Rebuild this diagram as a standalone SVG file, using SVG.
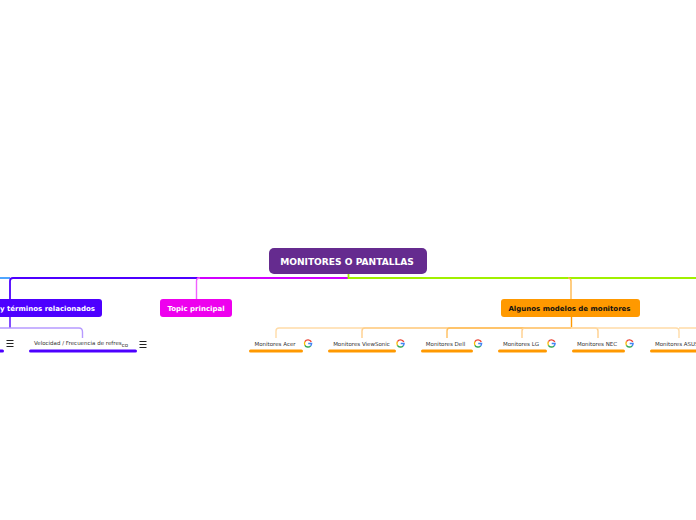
<svg xmlns="http://www.w3.org/2000/svg" width="696" height="520" viewBox="0 0 696 520">
<style>
text{font-family:"DejaVu Sans","Liberation Sans",sans-serif}
.t{font-weight:700;font-size:7px;text-anchor:middle}
.s{font-size:5.5px;fill:#333;text-anchor:middle}
.c{fill:none;stroke-width:1.4}
.b{stroke-width:1.8}
.u{fill:none;stroke-width:3;stroke-linecap:round}
.o{stroke:#ff9900}
.p{stroke:#4d00ff}
.h{stroke:#222;stroke-width:1;fill:none}
</style>
<defs>
<g id="g">
<path d="M3.3-1.6A3.6 3.6 0 0 0-3.1-1.8" fill="none" stroke="#ea4335" stroke-width="1.4"/>
<path d="M-3.1-1.8A3.6 3.6 0 0 0-3.1 1.8" fill="none" stroke="#fbbc05" stroke-width="1.4"/>
<path d="M-3.1 1.8A3.6 3.6 0 0 0 2.6 2.4" fill="none" stroke="#34a853" stroke-width="1.4"/>
<path d="M2.6 2.4A3.6 3.6 0 0 0 3.6 0H0.2" fill="none" stroke="#4285f4" stroke-width="1.4"/>
</g>
<path id="m" d="M-3.500-3H3.500M-3.500 0H3.500M-3.500 3H3.500" class="h"/>
</defs>
<g id="connectors">
<path class="c b" d="M0 278H10" stroke="#3d9bff"/>
<path class="c b" d="M348 278H196" stroke="#d000ff"/>
<path class="c b" d="M197 278H13Q10 278 10 281V299" stroke="#4d00ff"/>
<path class="c" d="M196.500 299V281Q196.500 278 200 278" stroke="#f060ff"/>
<path class="c b" d="M348.500 274V278H696" stroke="#a0f000"/>
<path class="c" d="M568 278Q571 278 571 281V299" stroke="#ffb84d"/>
<path class="c" d="M10 317V328" stroke="#4d00ff"/>
<path class="c" d="M0 328H79Q82.500 328 82.500 332V338" stroke="#b79aff"/>
<path class="c" d="M571.500 317V328" stroke="#ff9900"/>
<path class="c" d="M571 328H279Q276 328 276 331V338" stroke="#ffdca8"/>
<path class="c" d="M571 328H365Q362 328 362 331V338" stroke="#ffcf8c"/>
<path class="c" d="M571 328H450Q447 328 447 331V338" stroke="#ffbe5c"/>
<path class="c" d="M571 328H525Q522 328 522 331V338" stroke="#ffcf8c"/>
<path class="c" d="M571 328H595Q598 328 598 331V338" stroke="#ffcf8c"/>
<path class="c" d="M571 328H676Q679 328 679 331V338M679 328H696" stroke="#ffdca8"/>
</g>
<g id="root"><rect x="269" y="248" width="158" height="26" rx="5" fill="#652b8f"/><text x="347" y="265" text-anchor="middle" font-weight="700" fill="#fff" style="font-size:9.100px">MONITORES O PANTALLAS</text></g>
<g id="n-terminos"><rect x="-20" y="299" width="122" height="18" rx="3" fill="#4d00ff"/><text class="t" x="47.500" y="311" fill="#fff">y términos relacionados</text></g>
<g id="n-topic"><rect x="160" y="299" width="72" height="18" rx="3" fill="#ee00ee"/><text class="t" x="196" y="311" fill="#fff">Topic principal</text></g>
<g id="n-modelos"><rect x="501" y="299" width="139" height="18" rx="3" fill="#ff9900"/><text class="t" x="569.500" y="311" fill="#111">Algunos modelos de monitores</text></g>
<g id="n-left"><path class="u p" d="M-4 351H2.500"/><use href="#m" x="10" y="343.500"/></g>
<g id="n-velocidad"><text class="s" x="81" y="345">Velocidad / Frecuencia de refres<tspan dy="1.500">co</tspan></text><path class="u p" d="M30.500 351H135.500"/><use href="#m" x="143" y="344.500"/></g>
<g id="n-acer"><text class="s" x="275" y="346">Monitores Acer</text><path class="u o" d="M250.500 351H301.500"/><use href="#g" x="308" y="343.500"/></g>
<g id="n-viewsonic"><text class="s" x="361.500" y="346">Monitores ViewSonic</text><path class="u o" d="M329.500 351H394.500"/><use href="#g" x="400.500" y="343.500"/></g>
<g id="n-dell"><text class="s" x="445.500" y="346">Monitores Dell</text><path class="u o" d="M422.500 351H471.500"/><use href="#g" x="478" y="343.500"/></g>
<g id="n-lg"><text class="s" x="521" y="346">Monitores LG</text><path class="u o" d="M499.500 351H545.500"/><use href="#g" x="551.500" y="343.500"/></g>
<g id="n-nec"><text class="s" x="597" y="346">Monitores NEC</text><path class="u o" d="M573.500 351H623.500"/><use href="#g" x="629.500" y="343.500"/></g>
<g id="n-asus"><text class="s" x="655" y="346" style="text-anchor:start">Monitores ASUS</text><path class="u o" d="M651.500 351H698"/></g>
</svg>
